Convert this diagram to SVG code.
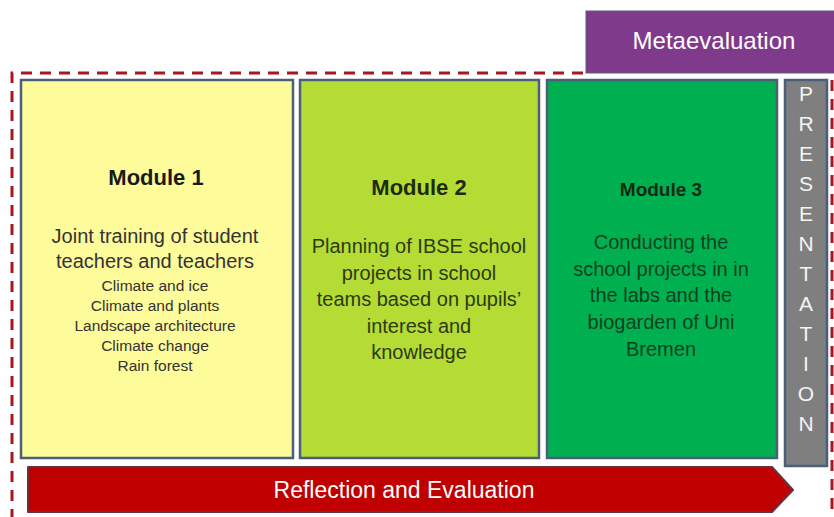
<svg xmlns="http://www.w3.org/2000/svg" width="834" height="517" viewBox="0 0 834 517">
<style>
.mod{stroke:#4b5f78;stroke-width:2.5}
.t{font-family:"Liberation Sans",Arial,sans-serif;text-anchor:middle}
.title{font-weight:bold;font-size:22px}
.body{font-size:20px}
.small{font-size:15.5px}
.white{fill:#ffffff}
.pres{font-size:21px;fill:#f4f4f4}
</style>
<rect width="834" height="517" fill="#ffffff"/>
<g id="frame">
<path d="M12,520 L12,73 L590,73" fill="none" stroke="#a8161f" stroke-width="3" stroke-dasharray="11,8"/>
<path d="M832,80 L832,520" fill="none" stroke="#a8161f" stroke-width="3" stroke-dasharray="11,8"/>
</g>
<g id="metaevaluation">
<rect x="586" y="11" width="250" height="62" fill="#7f3a8c" stroke="#5a5f7a" stroke-width="1"/>
<text class="t white" x="714" y="49" font-size="24">Metaevaluation</text>
</g>
<g id="module1">
<rect class="mod" x="21" y="80" width="272" height="378" fill="#fdfb9a"/>
<text class="t title" x="156" y="185" fill="#1a1a1a">Module 1</text>
<text class="t body" x="155" y="243" fill="#333333" font-size="21">Joint training of student</text>
<text class="t body" x="155" y="268" fill="#333333" font-size="21">teachers and teachers</text>
<text class="t small" x="155" y="291" fill="#333333">Climate and ice</text>
<text class="t small" x="155" y="311" fill="#333333">Climate and plants</text>
<text class="t small" x="155" y="331" fill="#333333">Landscape architecture</text>
<text class="t small" x="155" y="351" fill="#333333">Climate change</text>
<text class="t small" x="155" y="371" fill="#333333">Rain forest</text>
</g>
<g id="module2">
<rect class="mod" x="300" y="80" width="239" height="378" fill="#b4dc34"/>
<text class="t title" x="419" y="195" fill="#1f2a0c">Module 2</text>
<text class="t body" x="419" y="253" fill="#2c3a12">Planning of IBSE school</text>
<text class="t body" x="419" y="280" fill="#2c3a12">projects in school</text>
<text class="t body" x="419" y="306" fill="#2c3a12">teams based on pupils’</text>
<text class="t body" x="419" y="333" fill="#2c3a12">interest and</text>
<text class="t body" x="419" y="359" fill="#2c3a12">knowledge</text>
</g>
<g id="module3">
<rect class="mod" x="547" y="80" width="230" height="378" fill="#00b050"/>
<text class="t" x="661" y="196" font-size="19" font-weight="bold" fill="#0c2a14">Module  3</text>
<text class="t body" x="661" y="249" fill="#0d421e">Conducting the</text>
<text class="t body" x="661" y="276" fill="#0d421e">school projects  in in</text>
<text class="t body" x="661" y="302" fill="#0d421e">the labs and the</text>
<text class="t body" x="661" y="329" fill="#0d421e">biogarden of Uni</text>
<text class="t body" x="661" y="356" fill="#0d421e">Bremen</text>
</g>
<g id="presentation">
<rect class="mod" x="785" y="80" width="42" height="386" fill="#7f7f7f"/>
<text class="t pres" x="806" y="101">P</text>
<text class="t pres" x="806" y="131">R</text>
<text class="t pres" x="806" y="161">E</text>
<text class="t pres" x="806" y="191">S</text>
<text class="t pres" x="806" y="221">E</text>
<text class="t pres" x="806" y="251">N</text>
<text class="t pres" x="806" y="281">T</text>
<text class="t pres" x="806" y="311">A</text>
<text class="t pres" x="806" y="341">T</text>
<text class="t pres" x="806" y="371">I</text>
<text class="t pres" x="806" y="401">O</text>
<text class="t pres" x="806" y="431">N</text>
</g>
<g id="reflection">
<path d="M28,467 L772,467 L793,490 L772,512 L28,512 Z" fill="#c00000" stroke="#6a3040" stroke-width="2" stroke-linejoin="round"/>
<text class="t white" x="404" y="498" font-size="23">Reflection and Evaluation</text>
</g>
<g id="connectors"></g>
</svg>
